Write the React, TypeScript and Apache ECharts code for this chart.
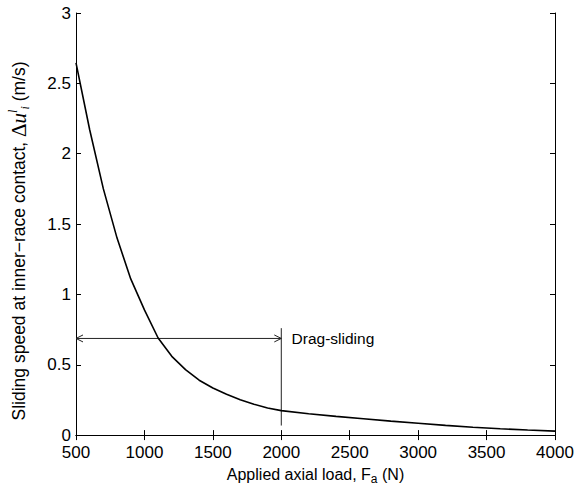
import React, { useEffect, useRef } from "react";
import * as echarts from "echarts";

// Applied axial load (N)
const loads = [500, 600, 700, 800, 900, 1000, 1100, 1200, 1300, 1400, 1500, 1600, 1700, 1800, 1900, 2000, 2200, 2400, 2600, 2800, 3000, 3200, 3400, 3600, 3800, 4000];
// Sliding speed at inner-race contact (m/s)
const speeds = [2.645, 2.17, 1.75, 1.4, 1.11, 0.89, 0.69, 0.56, 0.465, 0.39, 0.335, 0.29, 0.252, 0.22, 0.193, 0.174, 0.152, 0.133, 0.116, 0.099, 0.084, 0.069, 0.056, 0.045, 0.036, 0.028];

// Axis ranges and ticks
const xRange = [500, 4000];
const xStep = 500;
const yRange = [0, 3];
const yStep = 0.5;

// Annotation: drag-sliding region
const arrowLevel = 0.687;
const arrowSpan = [500, 2000];
const markerX = 2000;
const markerSpan = [0.068, 0.76];
const annoText = "Drag-sliding";
const annoPos = [2075, 0.69];

const FONT = "'Liberation Sans', Arial, Helvetica, sans-serif";
const SERIF = "'Liberation Serif', 'DejaVu Serif', serif";

export default function App() {
  const ref = useRef<HTMLDivElement>(null);
  useEffect(() => {
    if (!ref.current) return;
    const chart = echarts.init(ref.current, null, { renderer: "svg" });
    const axisCommon = {
      type: "value",
      axisLine: { show: true, lineStyle: { color: "#000", width: 1 } },
      axisTick: { show: true, inside: true, length: 5, lineStyle: { color: "#000" } },
      splitLine: { show: false },
    };
    const curve = loads.map((x, i) => [x, speeds[i]]);
    chart.setOption({
      animation: false,
      backgroundColor: "#fff",
      grid: { left: 76, right: 27, top: 13, bottom: 52, containLabel: false },
      graphic: [
        {
          type: "text",
          x: 19,
          y: 241,
          rotation: Math.PI / 2,
          silent: true,
          style: {
            text: "{t|Sliding speed at inner−race contact, }{g|Δ}{m|u}{sp|l}{sb|i}{t| (m/s)}",
            align: "center",
            verticalAlign: "middle",
            rich: {
              t: { fontSize: 17.5, fontFamily: FONT, fill: "#000" },
              g: { fontSize: 21, fontFamily: SERIF, fill: "#000" },
              m: { fontSize: 21, fontFamily: SERIF, fontStyle: "italic", fill: "#000" },
              sb: { fontSize: 12, fontFamily: SERIF, fontStyle: "italic", fill: "#000", padding: [12, 0, 0, 0] },
              sp: { fontSize: 12, fontFamily: SERIF, fontStyle: "italic", fill: "#000", padding: [0, 0, 12, 0] },
            },
          },
        },
      ],
      xAxis: [
        {
          ...axisCommon,
          min: xRange[0],
          max: xRange[1],
          interval: xStep,
          position: "bottom",
          axisLabel: { color: "#000", fontSize: 17, lineHeight: 17, fontFamily: FONT, margin: 9, formatter: (v: number) => String(v) },
          name: "{t|Applied axial load, F}{s|a}{t| (N)}",
          nameLocation: "middle",
          nameGap: 27,
          nameTextStyle: {
            rich: {
              t: { fontSize: 16, fontFamily: FONT, color: "#000" },
              s: { fontSize: 12, fontFamily: FONT, color: "#000", padding: [10, 0, 0, 0] },
            },
          },
        },
        {
          ...axisCommon,
          min: xRange[0],
          max: xRange[1],
          interval: xStep,
          position: "top",
          axisLabel: { show: false },
        },
      ],
      yAxis: [
        {
          ...axisCommon,
          min: yRange[0],
          max: yRange[1],
          interval: yStep,
          position: "left",
          axisLabel: { color: "#000", fontSize: 17, lineHeight: 14, fontFamily: FONT, margin: 5 },
        },
        {
          ...axisCommon,
          min: yRange[0],
          max: yRange[1],
          interval: yStep,
          position: "right",
          axisLabel: { show: false },
        },
      ],
      series: [
        {
          type: "line",
          data: curve,
          showSymbol: false,
          symbol: "none",
          lineStyle: { color: "#000", width: 1.6 },
          silent: true,
        },
        {
          type: "custom",
          data: [0],
          silent: true,
          clip: false,
          renderItem: (_params: any, api: any) => {
            const a = api.coord([arrowSpan[0], arrowLevel]);
            const b = api.coord([arrowSpan[1], arrowLevel]);
            const v1 = api.coord([markerX, markerSpan[0]]);
            const v2 = api.coord([markerX, markerSpan[1]]);
            const t = api.coord(annoPos);
            const s = { stroke: "#222", lineWidth: 1, fill: null };
            const h = 7;
            const w = 3.5;
            return {
              type: "group",
              children: [
                { type: "line", shape: { x1: a[0], y1: a[1], x2: b[0], y2: b[1] }, style: s },
                { type: "polyline", shape: { points: [[a[0] + h, a[1] - w], [a[0], a[1]], [a[0] + h, a[1] + w]] }, style: s },
                { type: "polyline", shape: { points: [[b[0] - h, b[1] - w], [b[0], b[1]], [b[0] - h, b[1] + w]] }, style: s },
                { type: "line", shape: { x1: v1[0], y1: v1[1], x2: v2[0], y2: v2[1] }, style: s },
                {
                  type: "text",
                  x: t[0],
                  y: t[1],
                  style: {
                    text: annoText,
                    fill: "#000",
                    fontSize: 15.5,
                    fontFamily: FONT,
                    align: "left",
                    verticalAlign: "middle",
                  },
                },
              ],
            };
          },
        },
      ],
    });
    return () => chart.dispose();
  }, []);
  return (
    <div
      ref={ref}
      style={{ position: "fixed", left: 0, top: 0, width: 582, height: 490, background: "#fff" }}
    />
  );
}
